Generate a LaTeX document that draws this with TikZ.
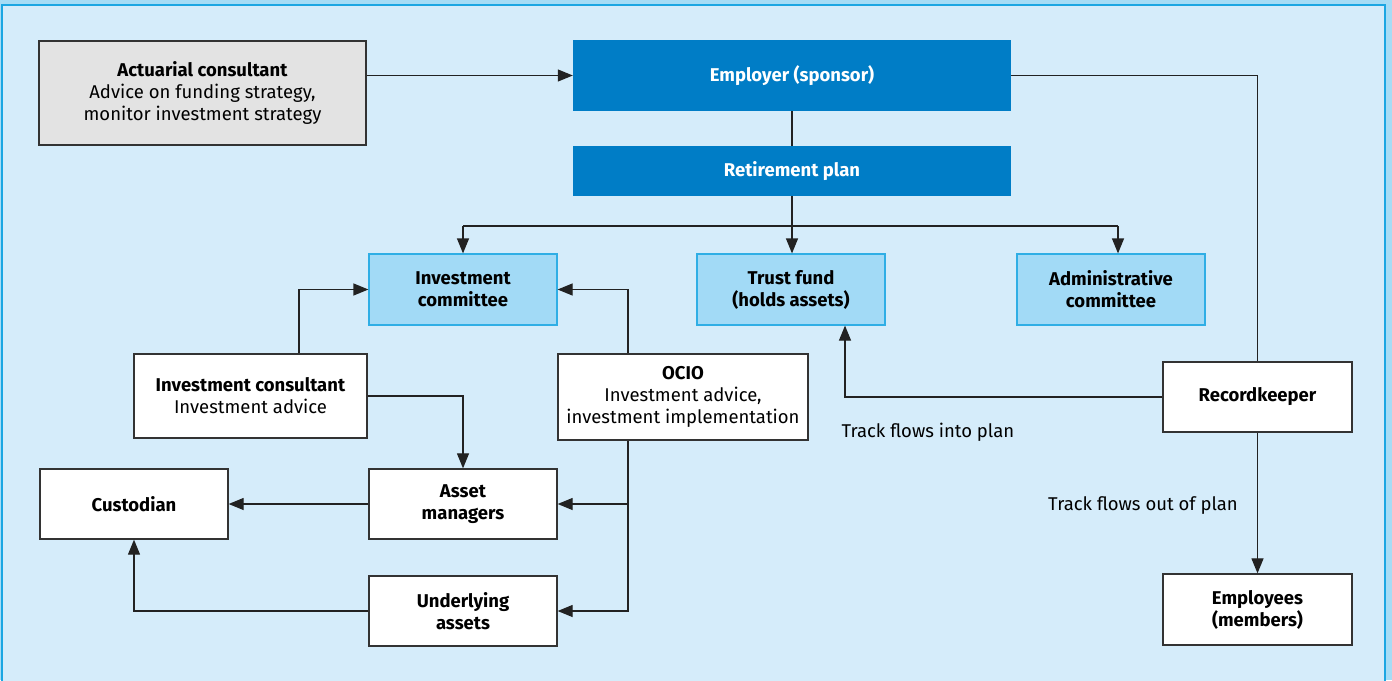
\documentclass[tikz,border=0pt]{standalone}
\usepackage{fontspec}
\setmainfont{Fira Sans}
\usetikzlibrary{arrows.meta,calc}
\definecolor{outerbg}{HTML}{A6DCF5}
\definecolor{framec}{HTML}{1BA6E2}
\definecolor{innerbg}{HTML}{D5ECFA}
\definecolor{darkblue}{HTML}{007DC6}
\definecolor{lightbox}{HTML}{A2DAF6}
\definecolor{lightboxedge}{HTML}{2FAEE5}
\definecolor{greybox}{HTML}{E3E3E3}
\definecolor{edgec}{HTML}{333333}
\definecolor{linec}{HTML}{222222}
\begin{document}
\begin{tikzpicture}[x=1pt,y=-1pt,
  font=\fontsize{18.5}{22}\selectfont,
  base/.style={inner sep=2pt,align=center,text=black},
  whitebox/.style={base,draw=edgec,line width=1.3pt,fill=white},
  greyb/.style={base,draw=edgec,line width=1.3pt,fill=greybox},
  bluebox/.style={base,fill=darkblue,text=white,font=\fontsize{18.5}{22}\selectfont\bfseries},
  lbox/.style={base,draw=lightboxedge,line width=1.2pt,fill=lightbox,font=\fontsize{18.5}{22}\selectfont\bfseries},
  conn/.style={draw=linec,line width=1.2pt},
  arr/.style={conn,-{Triangle[length=15pt,width=12pt]}},
  lbl/.style={text=black}
]
\useasboundingbox (0,0) rectangle (1392,680);
\fill[outerbg] (0,0) rectangle (1392,680);
\draw[framec,line width=2pt,fill=innerbg] (2,5) rectangle (1385,700);

% nodes
\node[greyb,minimum width=327pt,minimum height=104pt] (act) at (202.5,93)
  {\textbf{Actuarial consultant}\\Advice on funding strategy,\\monitor investment strategy};
\node[bluebox,minimum width=438pt,minimum height=71pt] (emp) at (792,75.5) {Employer (sponsor)};
\node[bluebox,minimum width=438pt,minimum height=50pt] (ret) at (792,171) {Retirement plan};
\node[lbox,minimum width=188pt,minimum height=71pt] (ic) at (463,289.5) {Investment\\committee};
\node[lbox,minimum width=188pt,minimum height=71pt] (trust) at (791,289.5) {Trust fund\\(holds assets)};
\node[lbox,minimum width=188pt,minimum height=71pt] (admin) at (1111,289.5) {Administrative\\committee};
\node[whitebox,minimum width=233pt,minimum height=84pt] (icons) at (250.5,396)
  {\textbf{Investment consultant}\\Investment advice};
\node[whitebox,minimum width=250pt,minimum height=86pt] (ocio) at (683,397)
  {\textbf{OCIO}\\Investment advice,\\investment implementation};
\node[whitebox,minimum width=189pt,minimum height=70pt] (rk) at (1257.5,397) {\textbf{Recordkeeper}};
\node[whitebox,minimum width=188pt,minimum height=70pt] (cust) at (134,504) {\textbf{Custodian}};
\node[whitebox,minimum width=188pt,minimum height=70pt] (am) at (463,504) {\textbf{Asset}\\\textbf{managers}};
\node[whitebox,minimum width=188pt,minimum height=70pt] (ua) at (463,611) {\textbf{Underlying}\\\textbf{assets}};
\node[whitebox,minimum width=189pt,minimum height=71pt] (empl) at (1257.5,609.5) {\textbf{Employees}\\\textbf{(members)}};

% labels
\node[lbl,anchor=west] (lin) at (838,432) {Track flows into plan};
\node[lbl] (lout) at (1143,506) {Track flows out of plan};

% connectors
\draw[arr] (act.east |- emp.west) -- (emp.west);
\draw[conn] (emp.east) -| (rk.north);
\draw[conn] (emp.south) -- (ret.north);
\coordinate (j) at (792,226);
\coordinate (ja) at (1118,226);
\draw[conn] (ret.south) -- (j);
\draw[conn] (ic.north |- j) -- (ja);
\draw[arr] (ic.north |- j) -- (ic.north);
\draw[arr] (j) -- (j |- trust.north);
\draw[arr] (ja) -- (ja |- admin.north);

\coordinate (ict) at ([xshift=48.5pt]icons.north);
\draw[arr] (ict) |- (ic.west);
\draw[arr] (icons.east) -| (am.north);

\coordinate (ot) at ([xshift=-55pt]ocio.north);
\coordinate (ob) at ([xshift=-55pt]ocio.south);
\draw[arr] (ot) |- (ic.east);
\draw[arr] (ob) |- (ua.east);
\draw[arr] (ob |- am.east) -- (am.east);

\draw[arr] (am.west) -- (cust.east);
\draw[arr] (ua.west) -| (cust.south);

\coordinate (tin) at ([xshift=54pt]trust.south);
\draw[arr] (rk.west) -| (tin);
\draw[arr] (rk.south) -- (empl.north);
\end{tikzpicture}
\end{document}
